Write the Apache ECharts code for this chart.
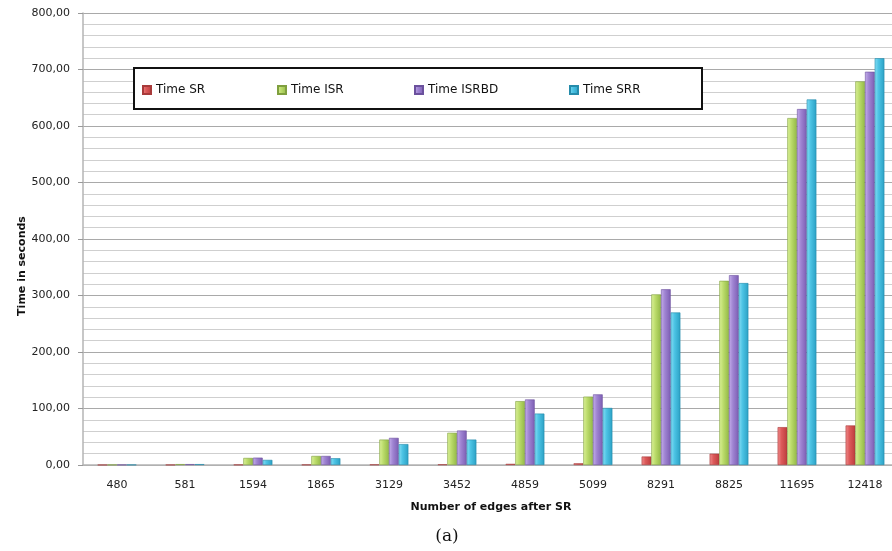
<!DOCTYPE html>
<html>
<head>
<meta charset="utf-8">
<script src="https://cdn.jsdelivr.net/npm/echarts@6/dist/echarts.min.js"></script>
<style>
  html, body { margin: 0; padding: 0; background: #fff; }
  #chart { width: 892px; height: 551px; }
</style>
</head>
<body>
<div id="chart"></div>
<script>
// Number of edges after SR (x categories)
const edgeCounts = ['480', '581', '1594', '1865', '3129', '3452', '4859', '5099', '8291', '8825', '11695', '12418'];

// Running times in seconds
const timeSR    = [0.2, 0.3, 0.5, 0.6, 0.8, 1.0, 2, 3, 15, 20, 67, 70];
const timeISR   = [0.4, 1.5, 12.5, 16, 45, 57, 113, 121, 302, 326, 614, 679];
const timeISRBD = [0.4, 1.5, 13, 16, 48, 61, 116, 125, 311, 336, 630, 696];
const timeSRR   = [0.4, 1.5, 9, 12, 37, 45, 91, 101, 270, 322, 647, 720];

const seriesNames = ['Time SR', 'Time ISR', 'Time ISRBD', 'Time SRR'];

// Left-to-right shading for each bar colour
function shade(light, mid, dark) {
  return {
    type: 'linear', x: 0, y: 0, x2: 1, y2: 0,
    colorStops: [
      { offset: 0, color: light },
      { offset: 0.4, color: mid },
      { offset: 1, color: dark }
    ]
  };
}
const fills = [
  shade('#f08c8c', '#dc5a5a', '#bb3c3c'),
  shade('#dcf29a', '#bcdc6c', '#92b845'),
  shade('#c4aeea', '#9f84d2', '#7c5db3'),
  shade('#86def4', '#4cc3e4', '#2aa0c4')
];
const edges = ['#a83a3a', '#7f9f3f', '#6b519d', '#268cab'];

const chart = echarts.init(document.getElementById('chart'), null, { renderer: 'canvas' });

const legendLefts = [142, 277, 414, 569];
const legends = seriesNames.map((n, i) => ({
  data: [n],
  left: legendLefts[i],
  top: 84,
  padding: 0,
  z: 6,
  icon: 'rect',
  itemWidth: 8,
  itemHeight: 8,
  textStyle: { fontFamily: 'DejaVu Sans', fontSize: 12, color: '#111' }
}));

const values = [timeSR, timeISR, timeISRBD, timeSRR];

chart.setOption({
  animation: false,
  backgroundColor: '#fff',
  // plot area runs a little past the right edge of the canvas
  grid: { left: 83, width: 816, top: 13, bottom: 86, outerBoundsMode: 'none', containLabel: false },
  legend: legends,
  xAxis: {
    type: 'category',
    data: edgeCounts,
    name: 'Number of edges after SR',
    nameLocation: 'middle',
    nameGap: 37,
    nameTextStyle: { fontFamily: 'DejaVu Sans', fontSize: 11, fontWeight: 'bold', color: '#111' },
    axisLine: { lineStyle: { color: '#b4b4b4', width: 1.5 } },
    axisTick: { show: false },
    axisLabel: { fontFamily: 'DejaVu Sans', fontSize: 11, color: '#222', margin: 15 }
  },
  yAxis: {
    type: 'value',
    min: 0,
    max: 800,
    interval: 100,
    axisLine: { show: true, lineStyle: { color: '#b4b4b4', width: 1.5 } },
    axisTick: { show: true, length: 5, lineStyle: { color: '#999' } },
    axisLabel: {
      fontFamily: 'DejaVu Sans', fontSize: 11, color: '#222', margin: 13,
      formatter: v => v.toFixed(2).replace('.', ',')
    },
    splitLine: { show: true, lineStyle: { color: '#a9a9a9', width: 1 } },
    minorTick: { show: false, splitNumber: 5 },
    minorSplitLine: { show: true, lineStyle: { color: '#cfcfcf', width: 1 } }
  },
  graphic: [
    {
      type: 'rect',
      z: 3,
      shape: { x: 134, y: 68, width: 568, height: 41 },
      style: { fill: '#fff', stroke: '#111', lineWidth: 2 }
    },
    {
      type: 'text',
      x: 22, y: 266,
      rotation: Math.PI / 2,
      style: {
        text: 'Time in seconds',
        fontFamily: 'DejaVu Sans', fontSize: 11, fontWeight: 'bold', fill: '#111',
        align: 'center', verticalAlign: 'middle'
      }
    },
    {
      type: 'text',
      x: 447, y: 537,
      style: {
        text: '(a)',
        fontFamily: 'DejaVu Serif', fontSize: 17, fill: '#111',
        align: 'center', verticalAlign: 'middle'
      }
    }
  ],
  series: seriesNames.map((n, i) => ({
    name: n,
    type: 'bar',
    data: values[i],
    barGap: '0%',
    barCategoryGap: '43%',
    itemStyle: { color: fills[i], borderColor: edges[i], borderWidth: 0.6 }
  }))
});
</script>
</body>
</html>
